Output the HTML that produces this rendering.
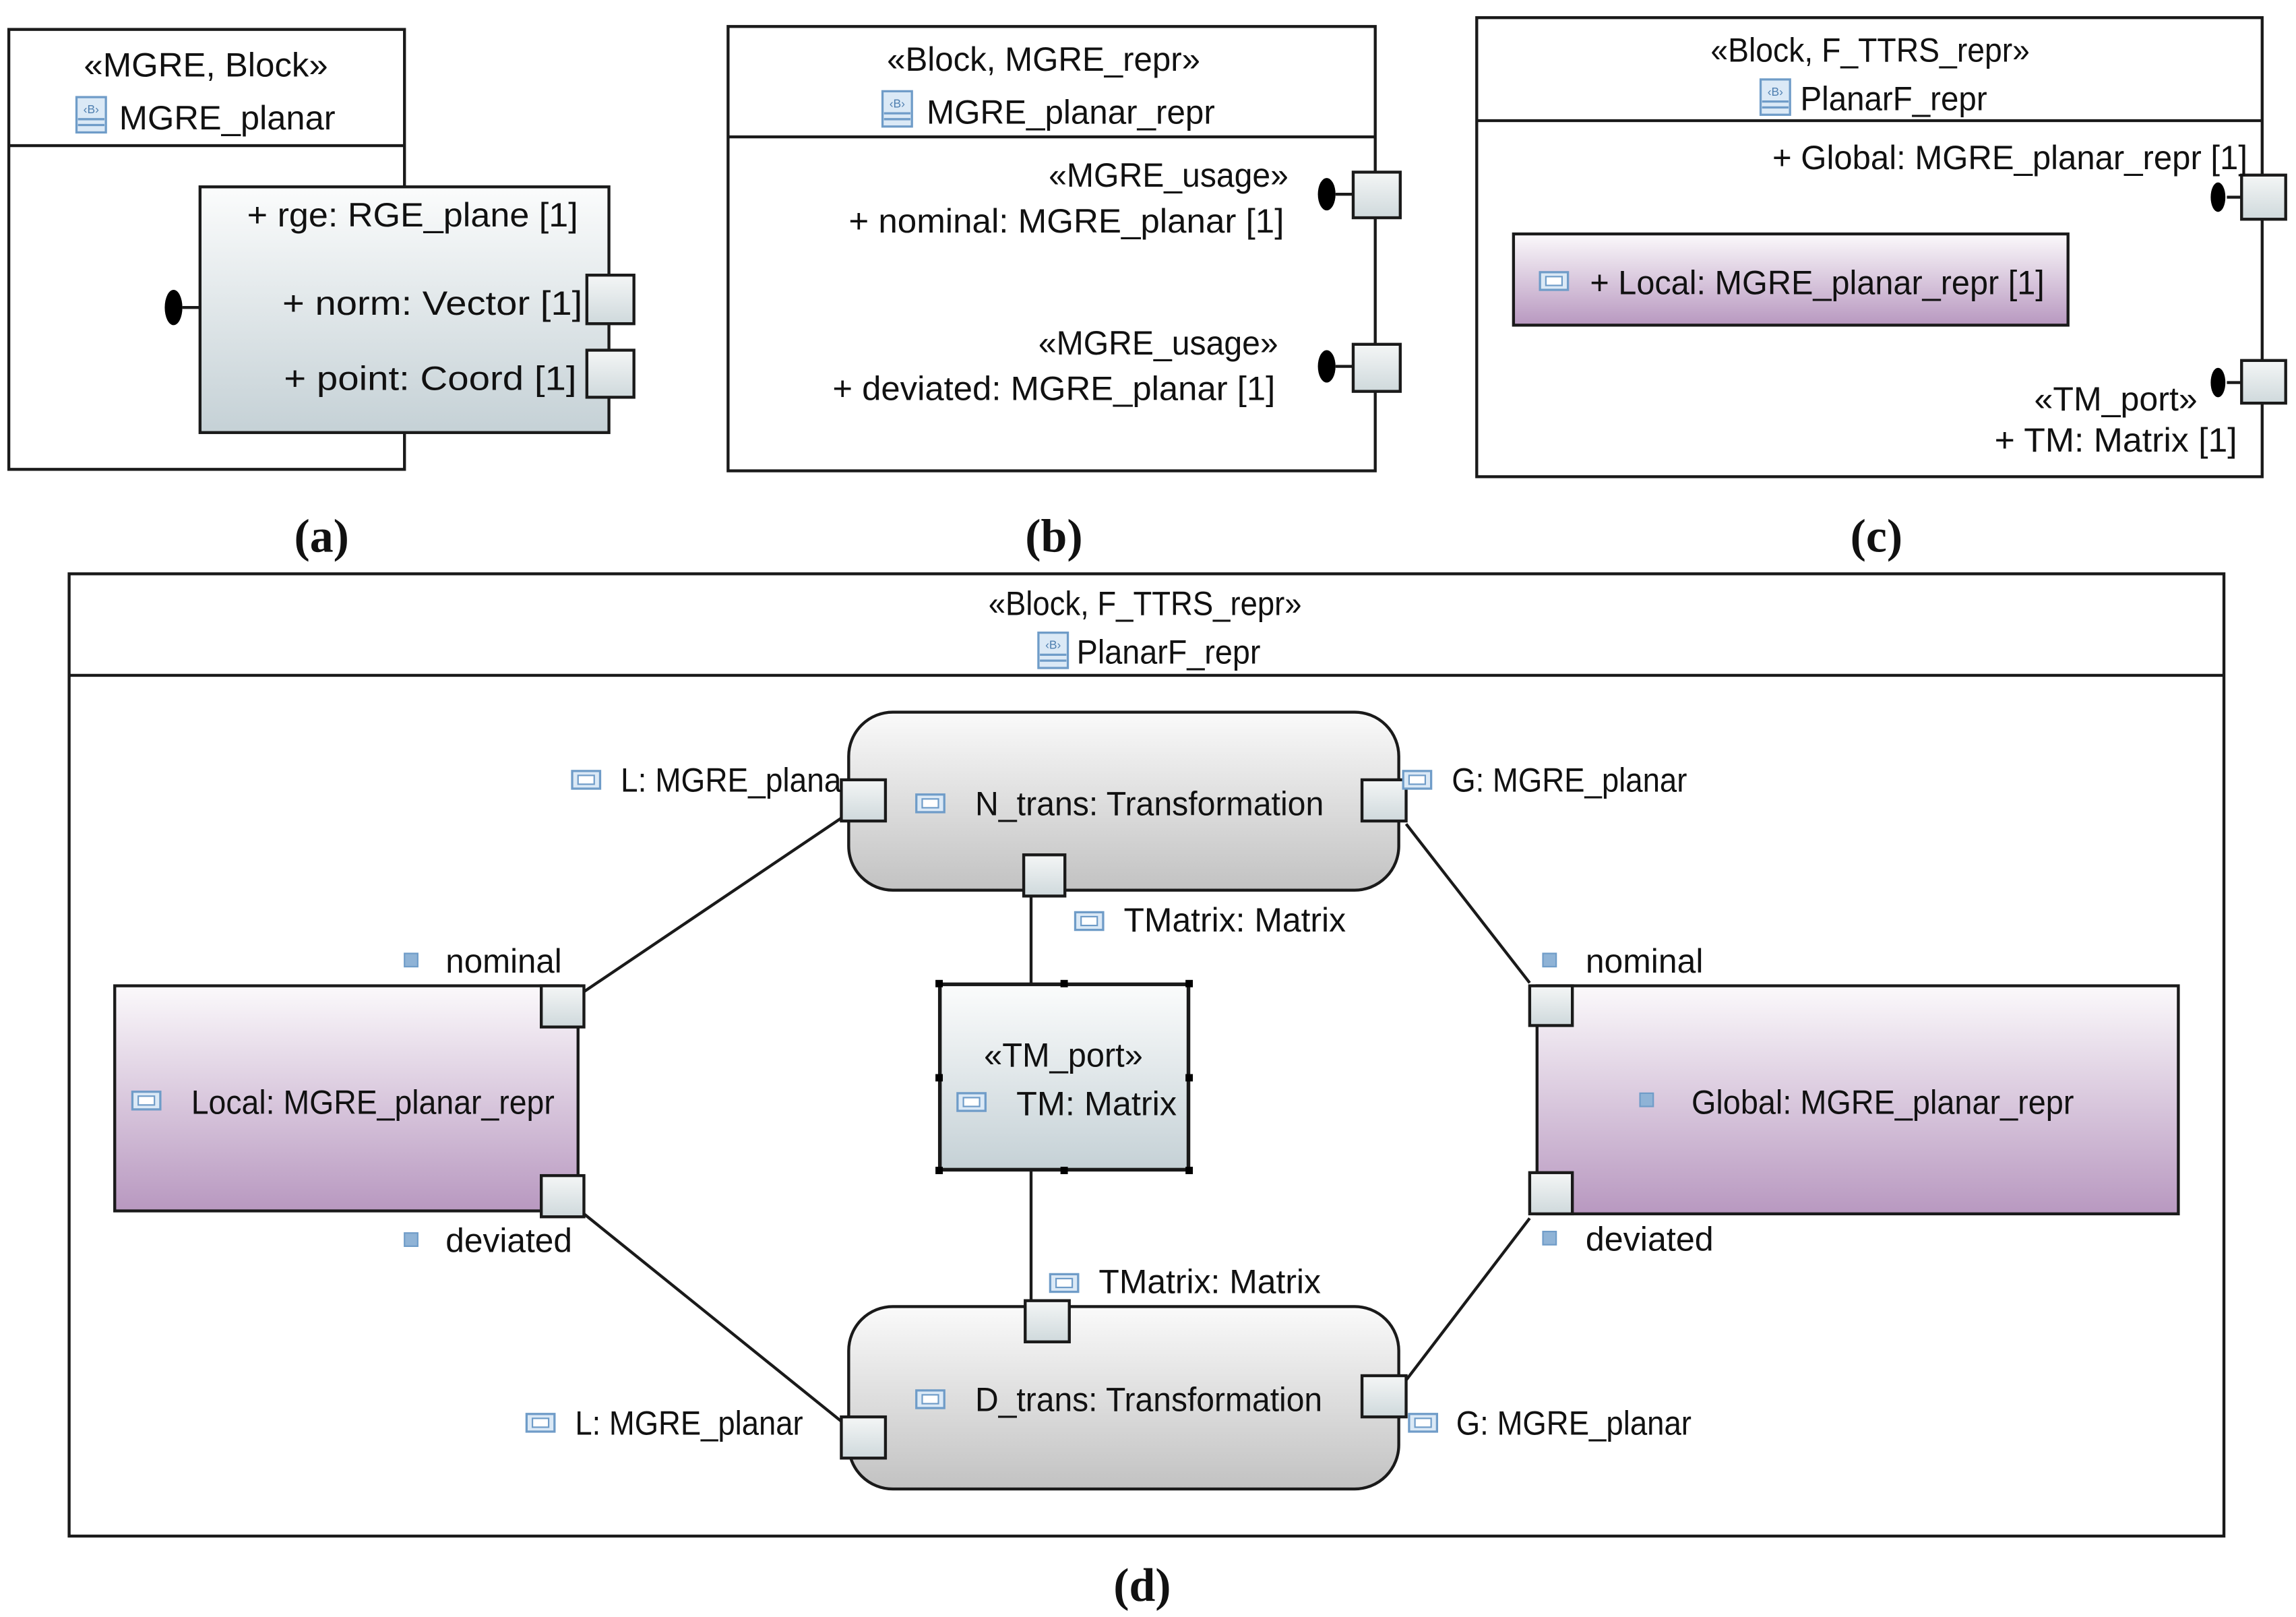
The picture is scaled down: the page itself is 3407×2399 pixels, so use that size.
<!DOCTYPE html>
<html><head><meta charset="utf-8"><style>
html,body{margin:0;padding:0;background:#fff;width:3407px;height:2399px;overflow:hidden}
svg{display:block}
text{font-family:"Liberation Sans",sans-serif;font-size:23px;fill:#111}
.lb{font-family:"Liberation Serif",serif;font-size:32px;font-weight:bold}
</style></head><body>
<svg width="3407" height="2399" viewBox="0 0 1561 1099" preserveAspectRatio="none" xmlns="http://www.w3.org/2000/svg">
<defs>
<linearGradient id="gb" x1="0" y1="0" x2="0" y2="1"><stop offset="0" stop-color="#fbfcfc"/><stop offset="1" stop-color="#c5d1d6"/></linearGradient>
<linearGradient id="gg" x1="0" y1="0" x2="0" y2="1"><stop offset="0" stop-color="#fafafa"/><stop offset="1" stop-color="#c2c2c2"/></linearGradient>
<linearGradient id="gp" x1="0" y1="0" x2="0" y2="1"><stop offset="0" stop-color="#fbf9fb"/><stop offset="1" stop-color="#b898c0"/></linearGradient>
<linearGradient id="gport" x1="0" y1="0" x2="0" y2="1"><stop offset="0" stop-color="#f4f6f6"/><stop offset="1" stop-color="#cfd9dc"/></linearGradient>
<g id="pi"><rect x="0" y="0" width="19" height="12" fill="#dbe9f6" stroke="#6f9cc8" stroke-width="1.5"/><rect x="4" y="3" width="11" height="6" fill="#fff" stroke="#6f9cc8" stroke-width="1"/></g>
<g id="bi"><rect x="0" y="0" width="20" height="24" fill="#dbe9f6" stroke="#6f9cc8" stroke-width="1.5"/><text x="10" y="11" text-anchor="middle" style="font-size:8px;fill:#4f7fb0">‹B›</text><line x1="1" y1="15" x2="19" y2="15" stroke="#6f9cc8" stroke-width="1.5"/><line x1="1" y1="19" x2="19" y2="19" stroke="#6f9cc8" stroke-width="1.5"/></g>
<g id="sq"><rect x="0" y="0" width="9" height="9" fill="#8fb3d6" stroke="#6f9cc8" stroke-width="1"/></g>
</defs>
<g stroke="#1a1a1a" stroke-width="2" fill="none">

<rect x="6" y="20" width="269" height="299" fill="#fff"/>
<line x1="6" y1="99" x2="275" y2="99"/>
<line x1="124" y1="209" x2="136" y2="209"/>
<ellipse cx="118" cy="209" rx="6" ry="12" fill="#000" stroke="none"/>
<rect x="136" y="127" width="278" height="167" fill="url(#gb)"/>
<rect x="399" y="187" width="32" height="33" fill="url(#gport)"/>
<rect x="399" y="238" width="32" height="32" fill="url(#gport)"/>

<rect x="495" y="18" width="440" height="302" fill="#fff"/>
<line x1="495" y1="93" x2="935" y2="93"/>
<line x1="908" y1="132" x2="920" y2="132"/>
<ellipse cx="902" cy="132" rx="6" ry="11" fill="#000" stroke="none"/>
<rect x="920" y="117" width="32" height="31" fill="url(#gport)"/>
<line x1="908" y1="249" x2="920" y2="249"/>
<ellipse cx="902" cy="249" rx="6" ry="11" fill="#000" stroke="none"/>
<rect x="920" y="234" width="32" height="32" fill="url(#gport)"/>

<rect x="1004" y="12" width="534" height="312" fill="#fff"/>
<line x1="1004" y1="82" x2="1538" y2="82"/>
<line x1="1514" y1="134" x2="1524" y2="134"/>
<ellipse cx="1508" cy="134" rx="5" ry="10" fill="#000" stroke="none"/>
<rect x="1524" y="119" width="30" height="30" fill="url(#gport)"/>
<rect x="1029" y="159" width="377" height="62" fill="url(#gp)"/>
<line x1="1514" y1="260" x2="1524" y2="260"/>
<ellipse cx="1508" cy="260" rx="5" ry="10" fill="#000" stroke="none"/>
<rect x="1524" y="245" width="30" height="29" fill="url(#gport)"/>

<rect x="47" y="390" width="1465" height="654" fill="#fff"/>
<line x1="47" y1="459" x2="1512" y2="459"/>
<line x1="397" y1="674" x2="572" y2="556"/>
<line x1="397" y1="825" x2="572" y2="966"/>
<line x1="956" y1="560" x2="1040" y2="668"/>
<line x1="956" y1="938" x2="1040" y2="828"/>
<line x1="701" y1="609" x2="701" y2="669"/>
<line x1="701" y1="795" x2="701" y2="884"/>
<rect x="577" y="484" width="374" height="121" rx="30" fill="url(#gg)"/>
<rect x="577" y="888" width="374" height="124" rx="30" fill="url(#gg)"/>
<rect x="639" y="669" width="169" height="126" fill="url(#gb)" stroke-width="2.5"/>
<rect x="78" y="670" width="315" height="153" fill="url(#gp)"/>
<rect x="1045" y="670" width="436" height="155" fill="url(#gp)"/>
<rect x="572" y="530" width="30" height="28" fill="url(#gport)"/>
<rect x="926" y="530" width="30" height="28" fill="url(#gport)"/>
<rect x="696" y="581" width="28" height="28" fill="url(#gport)"/>
<rect x="697" y="884" width="30" height="28" fill="url(#gport)"/>
<rect x="572" y="963" width="30" height="28" fill="url(#gport)"/>
<rect x="926" y="935" width="30" height="28" fill="url(#gport)"/>
<rect x="368" y="670" width="29" height="28" fill="url(#gport)"/>
<rect x="368" y="799" width="29" height="28" fill="url(#gport)"/>
<rect x="1040" y="670" width="29" height="27" fill="url(#gport)"/>
<rect x="1040" y="797" width="29" height="28" fill="url(#gport)"/>
</g>
<g fill="#000">
<rect x="636" y="666" width="5" height="5"/><rect x="721" y="666" width="5" height="5"/><rect x="806" y="666" width="5" height="5"/>
<rect x="636" y="730" width="5" height="5"/><rect x="806" y="730" width="5" height="5"/>
<rect x="636" y="793" width="5" height="5"/><rect x="721" y="793" width="5" height="5"/><rect x="806" y="793" width="5" height="5"/>
</g>

<text x="140" y="52" text-anchor="middle" textLength="166" lengthAdjust="spacingAndGlyphs">«MGRE, Block»</text>
<use href="#bi" x="52" y="66"/>
<text x="81" y="88" textLength="147" lengthAdjust="spacingAndGlyphs">MGRE_planar</text>
<text x="168" y="154" textLength="225" lengthAdjust="spacingAndGlyphs">+ rge: RGE_plane [1]</text>
<text x="192" y="214" textLength="204" lengthAdjust="spacingAndGlyphs">+ norm: Vector [1]</text>
<text x="193" y="265" textLength="199" lengthAdjust="spacingAndGlyphs">+ point: Coord [1]</text>

<text x="603" y="48" textLength="213" lengthAdjust="spacingAndGlyphs">«Block, MGRE_repr»</text>
<use href="#bi" x="600" y="62"/>
<text x="630" y="84" textLength="196" lengthAdjust="spacingAndGlyphs">MGRE_planar_repr</text>
<text x="713" y="127" textLength="163" lengthAdjust="spacingAndGlyphs">«MGRE_usage»</text>
<text x="577" y="158" textLength="296" lengthAdjust="spacingAndGlyphs">+ nominal: MGRE_planar [1]</text>
<text x="706" y="241" textLength="163" lengthAdjust="spacingAndGlyphs">«MGRE_usage»</text>
<text x="566" y="272" textLength="301" lengthAdjust="spacingAndGlyphs">+ deviated: MGRE_planar [1]</text>

<text x="1163" y="42" textLength="217" lengthAdjust="spacingAndGlyphs">«Block, F_TTRS_repr»</text>
<use href="#bi" x="1197" y="54"/>
<text x="1224" y="75" textLength="127" lengthAdjust="spacingAndGlyphs">PlanarF_repr</text>
<text x="1205" y="115" textLength="323" lengthAdjust="spacingAndGlyphs">+ Global: MGRE_planar_repr [1]</text>
<use href="#pi" x="1047" y="185"/>
<text x="1081" y="200" textLength="309" lengthAdjust="spacingAndGlyphs">+ Local: MGRE_planar_repr [1]</text>
<text x="1383" y="279" textLength="111" lengthAdjust="spacingAndGlyphs">«TM_port»</text>
<text x="1356" y="307" textLength="165" lengthAdjust="spacingAndGlyphs">+ TM: Matrix [1]</text>

<text class="lb" x="200" y="375">(a)</text>
<text class="lb" x="697" y="375">(b)</text>
<text class="lb" x="1258" y="375">(c)</text>
<text class="lb" x="757" y="1088">(d)</text>

<text x="672" y="418" textLength="213" lengthAdjust="spacingAndGlyphs">«Block, F_TTRS_repr»</text>
<use href="#bi" x="706" y="430"/>
<text x="732" y="451" textLength="125" lengthAdjust="spacingAndGlyphs">PlanarF_repr</text>
<use href="#pi" x="389" y="524"/>
<text x="422" y="538" textLength="150" lengthAdjust="spacingAndGlyphs">L: MGRE_plana</text>
<use href="#pi" x="623" y="540"/>
<text x="663" y="554" textLength="237" lengthAdjust="spacingAndGlyphs">N_trans: Transformation</text>
<use href="#pi" x="954" y="524"/>
<text x="987" y="538" textLength="160" lengthAdjust="spacingAndGlyphs">G: MGRE_planar</text>
<use href="#pi" x="731" y="620"/>
<text x="764" y="633" textLength="151" lengthAdjust="spacingAndGlyphs">TMatrix: Matrix</text>
<text x="669" y="725" textLength="108" lengthAdjust="spacingAndGlyphs">«TM_port»</text>
<use href="#pi" x="651" y="743"/>
<text x="691" y="758" textLength="109" lengthAdjust="spacingAndGlyphs">TM: Matrix</text>
<use href="#sq" x="275" y="648"/>
<text x="303" y="661" textLength="79" lengthAdjust="spacingAndGlyphs">nominal</text>
<use href="#pi" x="90" y="742"/>
<text x="130" y="757" textLength="247" lengthAdjust="spacingAndGlyphs">Local: MGRE_planar_repr</text>
<use href="#sq" x="275" y="838"/>
<text x="303" y="851" textLength="86" lengthAdjust="spacingAndGlyphs">deviated</text>
<use href="#sq" x="1049" y="648"/>
<text x="1078" y="661" textLength="80" lengthAdjust="spacingAndGlyphs">nominal</text>
<use href="#sq" x="1115" y="743"/>
<text x="1150" y="757" textLength="260" lengthAdjust="spacingAndGlyphs">Global: MGRE_planar_repr</text>
<use href="#sq" x="1049" y="837"/>
<text x="1078" y="850" textLength="87" lengthAdjust="spacingAndGlyphs">deviated</text>
<use href="#pi" x="714" y="866"/>
<text x="747" y="879" textLength="151" lengthAdjust="spacingAndGlyphs">TMatrix: Matrix</text>
<use href="#pi" x="623" y="945"/>
<text x="663" y="959" textLength="236" lengthAdjust="spacingAndGlyphs">D_trans: Transformation</text>
<use href="#pi" x="358" y="961"/>
<text x="391" y="975" textLength="155" lengthAdjust="spacingAndGlyphs">L: MGRE_planar</text>
<use href="#pi" x="958" y="961"/>
<text x="990" y="975" textLength="160" lengthAdjust="spacingAndGlyphs">G: MGRE_planar</text>
</svg>
</body></html>
